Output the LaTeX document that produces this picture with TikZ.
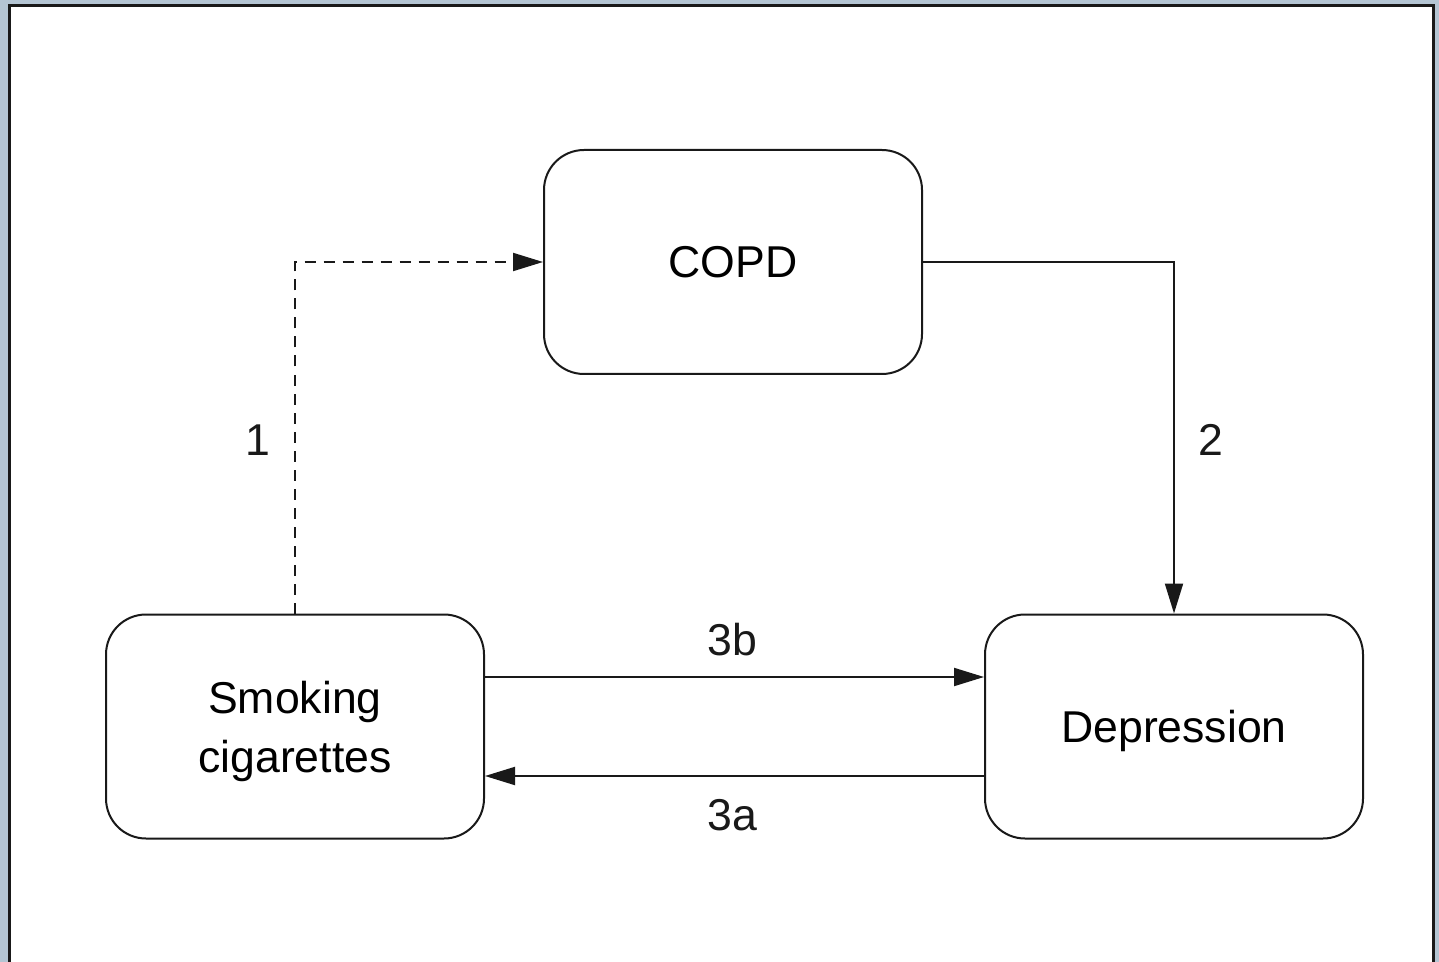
\documentclass[tikz,border=0pt]{standalone}
\usepackage{fontspec}
\setmainfont{Liberation Sans}
\usetikzlibrary{arrows.meta, positioning}
\definecolor{fondo}{RGB}{180, 197, 211}
\definecolor{linea}{RGB}{25, 25, 25}
\tikzset{
    box/.style={draw=linea, rounded corners=20pt, line width=1pt, minimum width=189pt, minimum height=112pt, align=center, font=\fontsize{22.3}{29.5}\selectfont},
    conn/.style={-{Triangle[length=15pt, width=9pt]}, linea, line width=1pt},
    dconn/.style={conn, dash pattern=on 5.5pt off 4pt},
    lab/.style={font=\fontsize{22.3}{28}\selectfont, text=linea},
}

\begin{document}
\begin{tikzpicture}[x=0.5pt, y=-0.5pt]
            \fill[fondo] (0,0) rectangle (1439,962);
            \useasboundingbox (0,0) rectangle (1439,962);
            \draw[fill=white, draw=linea, line width=1.5pt] (9.5,1000) -- (9.5,5.5) -- (1433.5,5.5) -- (1433.5,1000);

            \node[box] (copd) at (733, 262) {COPD};
            \node[box, text depth=0pt] (smoke) at (295, 726.5) {Smoking\\cigarettes};
            \node[box, text depth=0pt] (dep) at (1174, 726.5) {Depression};

            \node[lab] (l1) at (258, 440) {1};
            \node[lab] (l2) at (1211, 440) {2};
            \node[lab] (l3b) at (732, 640) {3b};
            \node[lab] (l3a) at (732, 815) {3a};

            \draw[dconn] (smoke.north) |- (copd.west);
            \draw[conn] (copd.east) -| (dep.north);
            \draw[conn] ([yshift=24.75pt]smoke.east) -- ([yshift=24.75pt]dep.west);
            \draw[conn] ([yshift=-24.75pt]dep.west) -- ([yshift=-24.75pt]smoke.east);
        \end{tikzpicture}
\end{document}
